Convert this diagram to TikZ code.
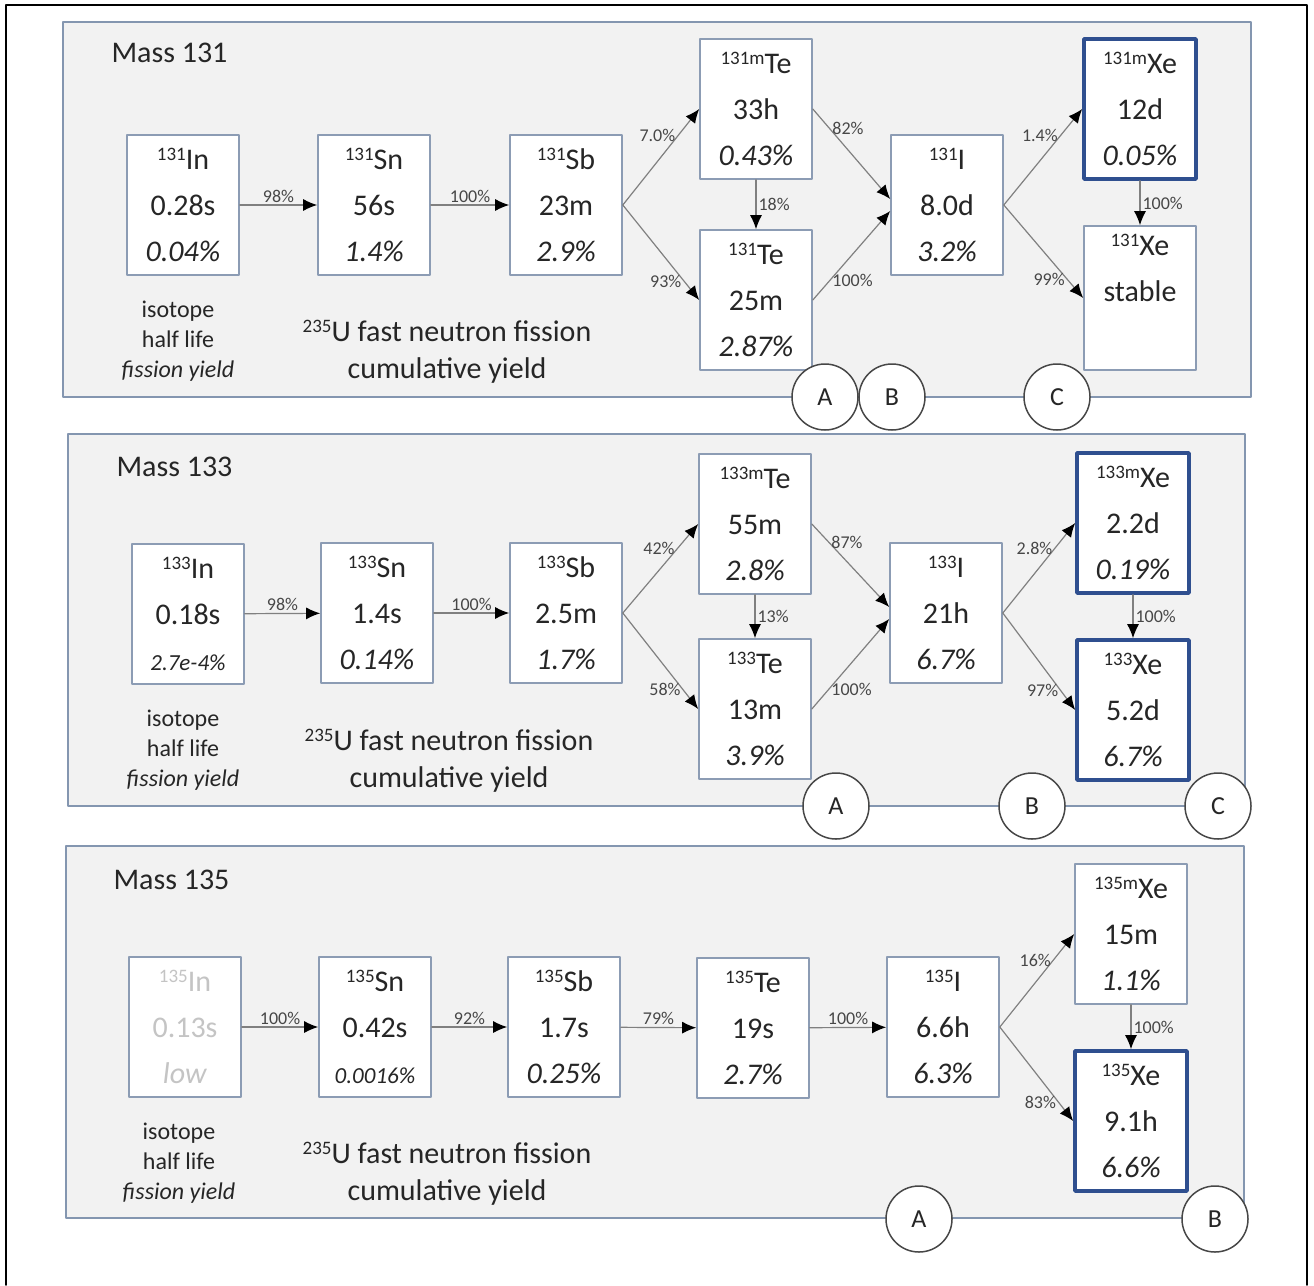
\documentclass[tikz,border=0pt]{standalone}
\usepackage{fontspec}
\setmainfont{Carlito}
\usetikzlibrary{arrows.meta}
\definecolor{panelfill}{HTML}{F2F2F2}
\definecolor{panelrim}{HTML}{8496B0}
\definecolor{boxrim}{HTML}{8C9CB4}
\definecolor{xeblue}{HTML}{2F4F8F}
\definecolor{inkgray}{HTML}{262626}
\definecolor{linegray}{HTML}{808080}
\definecolor{fadegray}{HTML}{C4C4C4}
% isotope with its mass number raised in front
\newcommand{\nuclide}[2]{\raisebox{0.62ex}{\fontsize{19}{19}\selectfont #1}#2}
\newcommand{\smallyield}[1]{{\fontsize{23}{23}\selectfont\textit{#1}}}

\begin{document}
\begin{tikzpicture}[x=1pt, y=-1pt, line cap=round, line join=round,
  isobox/.style={draw=boxrim, line width=1.6pt, fill=white, minimum width=112pt,
    minimum height=140pt, inner sep=0pt, align=center, text=inkgray,
    font=\fontsize{30}{46}\selectfont},
  xebox/.style={isobox, draw=xeblue, line width=3.6pt},
  fadedbox/.style={isobox, text=fadegray},
  decay/.style={draw=linegray, line width=1.2pt,
    -{Latex[length=14pt,width=12pt,color=black]}},
  pct/.style={font=\fontsize{18}{18}\selectfont, text=inkgray!85, inner sep=2pt},
  stage/.style={circle, draw=inkgray!85, line width=1.5pt, fill=white,
    minimum size=66pt, inner sep=0pt, text=inkgray, font=\fontsize{26}{26}\selectfont},
  panel/.style={draw=panelrim, line width=2pt, fill=panelfill},
  title/.style={anchor=west, text=inkgray, font=\fontsize{30}{30}\selectfont},
  keytext/.style={align=center, text=inkgray, font=\fontsize{24}{30}\selectfont},
  source/.style={align=center, text=inkgray, font=\fontsize{30}{37}\selectfont}]
  \useasboundingbox (0,0) rectangle (1314,1285);
  % outer frame, open at the bottom
  \draw[line width=1.5pt] (6,1285) -- (6,5) -- (1307,5) -- (1307,1285);

  % ---------------- Mass 131 ----------------
  \draw[panel] (63,22) rectangle (1251,397);
  \node[title] (title131) at (108,53) {Mass 131};
  \node[isobox] (In131)  at (183,205) {\nuclide{131}{In}\\0.28s\\\textit{0.04\%}};
  \node[isobox] (Sn131)  at (374,205) {\nuclide{131}{Sn}\\56s\\\textit{1.4\%}};
  \node[isobox] (Sb131)  at (566,205) {\nuclide{131}{Sb}\\23m\\\textit{2.9\%}};
  \node[isobox] (Tem131) at (756,109) {\nuclide{131m}{Te}\\33h\\\textit{0.43\%}};
  \node[isobox] (Te131)  at (756,300) {\nuclide{131}{Te}\\25m\\\textit{2.87\%}};
  \node[isobox] (I131)   at (947,205) {\nuclide{131}{I}\\8.0d\\\textit{3.2\%}};
  \node[xebox]  (Xem131) at (1140,109) {\nuclide{131m}{Xe}\\12d\\\textit{0.05\%}};
  \node[isobox, minimum height=144pt] (Xe131) at (1140,298) {\nuclide{131}{Xe}\\stable\\\strut};
  \draw[decay] (In131) -- node[pct, above] {98\%} (Sn131);
  \draw[decay] (Sn131) -- node[pct, above] {100\%} (Sb131);
  \draw[decay] (Sb131.east) -- node[pct, pos=0.72, left] {7.0\%} (Tem131.west);
  \draw[decay] (Sb131.east) -- node[pct, pos=0.8, left] {93\%} (Te131.west);
  \draw[decay] (Tem131) -- node[pct, right] {18\%} (Te131);
  \draw[decay] (Tem131.east) -- node[pct, pos=0.22, right] {82\%} ([yshift=6pt]I131.west);
  \draw[decay] (Te131.east) -- node[pct, pos=0.22, right] {100\%} ([yshift=-6pt]I131.west);
  \draw[decay] (I131.east) -- node[pct, pos=0.72, left] {1.4\%} (Xem131.west);
  \draw[decay] (I131.east) -- node[pct, pos=0.8, left] {99\%} (Xe131.west);
  \draw[decay] (Xem131) -- node[pct, right] {100\%} (Xe131);
  \node[keytext] (key131) at (178,341) {isotope\\half life\\\textit{fission yield}};
  \node[source] (src131) at (447,352) {\nuclide{235}{U} fast neutron fission\\cumulative yield};
  \node[stage] (A131) at (825,397) {A};
  \node[stage] (B131) at (892,397) {B};
  \node[stage] (C131) at (1057,397) {C};

  % ---------------- Mass 133 ----------------
  \draw[panel] (68,434) rectangle (1245,806);
  \node[title] (title133) at (113,467) {Mass 133};
  \node[isobox] (In133)  at (188,614) {\nuclide{133}{In}\\0.18s\\\smallyield{2.7e-4\%}};
  \node[isobox] (Sn133)  at (377,613) {\nuclide{133}{Sn}\\1.4s\\\textit{0.14\%}};
  \node[isobox] (Sb133)  at (566,613) {\nuclide{133}{Sb}\\2.5m\\\textit{1.7\%}};
  \node[isobox] (Tem133) at (755,524) {\nuclide{133m}{Te}\\55m\\\textit{2.8\%}};
  \node[isobox] (Te133)  at (755,709) {\nuclide{133}{Te}\\13m\\\textit{3.9\%}};
  \node[isobox] (I133)   at (946,613) {\nuclide{133}{I}\\21h\\\textit{6.7\%}};
  \node[xebox]  (Xem133) at (1133,523) {\nuclide{133m}{Xe}\\2.2d\\\textit{0.19\%}};
  \node[xebox]  (Xe133)  at (1133,710) {\nuclide{133}{Xe}\\5.2d\\\textit{6.7\%}};
  \draw[decay] (In133) -- node[pct, above] {98\%} (Sn133);
  \draw[decay] (Sn133) -- node[pct, above] {100\%} (Sb133);
  \draw[decay] (Sb133.east) -- node[pct, pos=0.72, left] {42\%} (Tem133.west);
  \draw[decay] (Sb133.east) -- node[pct, pos=0.8, left] {58\%} (Te133.west);
  \draw[decay] (Tem133) -- node[pct, right] {13\%} (Te133);
  \draw[decay] (Tem133.east) -- node[pct, pos=0.22, right] {87\%} ([yshift=6pt]I133.west);
  \draw[decay] (Te133.east) -- node[pct, pos=0.22, right] {100\%} ([yshift=-6pt]I133.west);
  \draw[decay] (I133.east) -- node[pct, pos=0.72, left] {2.8\%} (Xem133.west);
  \draw[decay] (I133.east) -- node[pct, pos=0.8, left] {97\%} (Xe133.west);
  \draw[decay] (Xem133) -- node[pct, right] {100\%} (Xe133);
  \node[keytext] (key133) at (183,750) {isotope\\half life\\\textit{fission yield}};
  \node[source] (src133) at (449,761) {\nuclide{235}{U} fast neutron fission\\cumulative yield};
  \node[stage] (A133) at (836,806) {A};
  \node[stage] (B133) at (1032,806) {B};
  \node[stage] (C133) at (1218,806) {C};

  % ---------------- Mass 135 ----------------
  \draw[panel] (66,846) rectangle (1244,1218);
  \node[title] (title135) at (110,880) {Mass 135};
  \node[fadedbox] (In135) at (185,1027) {\nuclide{135}{In}\\0.13s\\\textit{low}};
  \node[isobox] (Sn135)  at (375,1027) {\nuclide{135}{Sn}\\0.42s\\\smallyield{0.0016\%}};
  \node[isobox] (Sb135)  at (564,1027) {\nuclide{135}{Sb}\\1.7s\\\textit{0.25\%}};
  \node[isobox] (Te135)  at (753,1028) {\nuclide{135}{Te}\\19s\\\textit{2.7\%}};
  \node[isobox] (I135)   at (943,1027) {\nuclide{135}{I}\\6.6h\\\textit{6.3\%}};
  \node[isobox] (Xem135) at (1131,934) {\nuclide{135m}{Xe}\\15m\\\textit{1.1\%}};
  \node[xebox]  (Xe135)  at (1131,1121) {\nuclide{135}{Xe}\\9.1h\\\textit{6.6\%}};
  \draw[decay] (In135) -- node[pct, above] {100\%} (Sn135);
  \draw[decay] (Sn135) -- node[pct, above] {92\%} (Sb135);
  \draw[decay] (Sb135) -- node[pct, above] {79\%} (Te135);
  \draw[decay] (Te135) -- node[pct, above] {100\%} (I135);
  \draw[decay] (I135.east) -- node[pct, pos=0.72, left] {16\%} (Xem135.west);
  \draw[decay] (I135.east) -- node[pct, pos=0.8, left] {83\%} (Xe135.west);
  \draw[decay] (Xem135) -- node[pct, right] {100\%} (Xe135);
  \node[keytext] (key135) at (179,1163) {isotope\\half life\\\textit{fission yield}};
  \node[source] (src135) at (447,1174) {\nuclide{235}{U} fast neutron fission\\cumulative yield};
  \node[stage] (A135) at (919,1219) {A};
  \node[stage] (B135) at (1215,1219) {B};
\end{tikzpicture}
\end{document}
